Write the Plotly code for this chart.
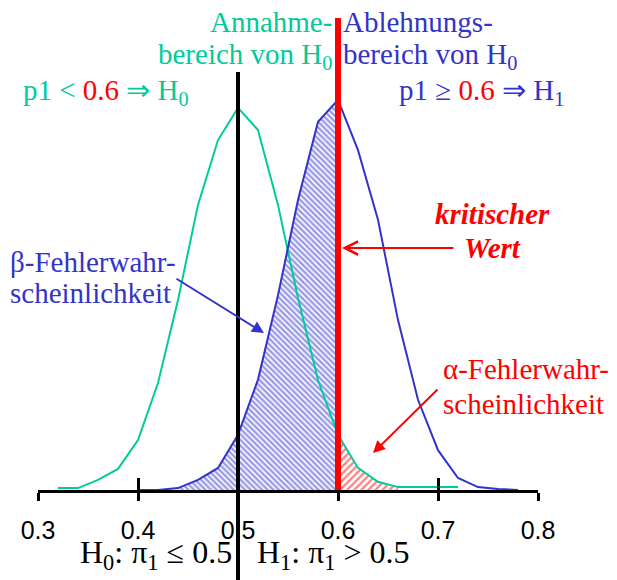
import plotly.graph_objects as go

# Sampling distribution of the sample proportion p1 (heights in percent)
p_h0 = [0.32, 0.34, 0.36, 0.38, 0.40, 0.42, 0.44, 0.46, 0.48, 0.50, 0.52,
        0.54, 0.56, 0.58, 0.60, 0.62, 0.64, 0.66, 0.68, 0.70, 0.72]
f_h0 = [0.04, 0.04, 0.21, 0.44, 1.04, 2.23, 3.96, 5.94, 7.29, 7.96, 7.50,
        5.94, 4.00, 2.29, 1.15, 0.46, 0.17, 0.06, 0.06, 0.06, 0.06]

p_h1 = [0.40, 0.42, 0.44, 0.46, 0.48, 0.50, 0.52, 0.54, 0.56, 0.58, 0.60,
        0.62, 0.64, 0.66, 0.68, 0.70, 0.72, 0.74, 0.76, 0.78]
f_h1 = [0.00, 0.00, 0.04, 0.21, 0.46, 1.15, 2.30, 4.06, 6.04, 7.67, 8.13,
        7.08, 5.63, 3.54, 1.88, 0.83, 0.25, 0.06, 0.02, 0.00]

tick_vals = [0.3, 0.4, 0.5, 0.6, 0.7, 0.8]
tick_text = ["0.3", "0.4", "0.5", "0.6", "0.7", "0.8"]

p_null = 0.5      # boundary of the hypotheses
p_crit = 0.6      # critical value
beta_from = 0.44  # start of the shaded beta area
alpha_to = 0.66   # end of the shaded alpha area

GREEN = "#00cc99"
BLUE = "#3333cc"
RED = "#ff0000"
SERIF = "'Liberation Serif', 'Times New Roman', Times, serif"
SANS = "'Liberation Sans', Arial, Helvetica, sans-serif"

W, H = 617, 580
Y_TOP = 490 / 48.0  # y-axis span so that one percent is 48 px

fig = go.Figure()

# beta error area: H1 curve left of the critical value
bx = [x for x in p_h1 if beta_from <= x <= p_crit]
by = [f for x, f in zip(p_h1, f_h1) if beta_from <= x <= p_crit]
fig.add_trace(go.Scatter(
    x=bx, y=by, mode="lines", line=dict(width=0), fill="tozeroy",
    fillcolor="rgba(255,255,255,0)",
    fillpattern=dict(shape="\\", fgcolor=BLUE, bgcolor="white",
                     size=4, solidity=0.6),
    hoverinfo="skip", showlegend=False))

# alpha error area: H0 curve right of the critical value
ax_ = [x for x in p_h0 if p_crit <= x <= alpha_to]
ay_ = [f for x, f in zip(p_h0, f_h0) if p_crit <= x <= alpha_to]
fig.add_trace(go.Scatter(
    x=ax_, y=ay_, mode="lines", line=dict(width=0), fill="tozeroy",
    fillcolor="rgba(255,255,255,0)",
    fillpattern=dict(shape="/", fgcolor=RED, bgcolor="white",
                     size=5, solidity=0.45),
    hoverinfo="skip", showlegend=False))

fig.add_trace(go.Scatter(x=p_h0, y=f_h0, mode="lines",
                         line=dict(color=GREEN, width=2),
                         hoverinfo="skip", showlegend=False))
fig.add_trace(go.Scatter(x=p_h1, y=f_h1, mode="lines",
                         line=dict(color=BLUE, width=2),
                         hoverinfo="skip", showlegend=False))
# carrier for the upward tick marks
fig.add_trace(go.Scatter(x=[p_null], y=[0], mode="markers",
                         marker=dict(opacity=0), xaxis="x2",
                         hoverinfo="skip", showlegend=False))

# vertical boundary lines
fig.add_shape(type="line", xref="x", yref="paper", x0=p_null, x1=p_null,
              y0=0, y1=1 - 72 / H, line=dict(color="black", width=4),
              layer="above")
fig.add_shape(type="line", xref="x", yref="y", x0=p_crit, x1=p_crit,
              y0=-0.05, y1=(490 - 18) / 48.0, line=dict(color=RED, width=6),
              layer="above")


def label(text, px, py, color, anchor="left", size=29, font=SERIF):
    fig.add_annotation(text=text, xref="paper", yref="paper",
                       x=px / W, y=1 - py / H, xanchor=anchor,
                       yanchor="middle", showarrow=False,
                       font=dict(family=font, size=size, color=color))


label("Annahme-", 334, 22, GREEN, "right")
label("bereich von H<sub>0</sub>", 334, 56, GREEN, "right")
label("Ablehnungs-", 341, 22, BLUE, "left")
label("bereich von H<sub>0</sub>", 341, 56, BLUE, "left")
label("p1 &lt; <span style='color:#ff0000'>0.6</span> ⇒ H<sub>0</sub>",
      21, 92, GREEN, "left")
label("p1 ≥ <span style='color:#ff0000'>0.6</span> ⇒ H<sub>1</sub>",
      566, 92, BLUE, "right")
label("<b><i>kritischer</i></b>", 492, 214, RED, "center")
label("<b><i>Wert</i></b>", 493, 248, RED, "center")
label("β-Fehlerwahr-", 8, 262, BLUE, "left")
label("scheinlichkeit", 8, 293, BLUE, "left")
label("α-Fehlerwahr-", 441, 369, RED, "left")
label("scheinlichkeit", 441, 404, RED, "left")
label("H<sub>0</sub>: π<sub>1</sub> ≤ 0.5", 234, 554, "black", "right",
      size=32)
label("H<sub>1</sub>: π<sub>1</sub> &gt; 0.5", 255, 554, "black", "left",
      size=32)


def arrow(x_head, y_head, x_tail, y_tail, color, head, size):
    fig.add_annotation(x=x_head, y=y_head, ax=x_tail, ay=y_tail,
                       xref="x", yref="y", axref="x", ayref="y",
                       text="", showarrow=True, arrowhead=head,
                       arrowsize=size, arrowwidth=2, arrowcolor=color,
                       standoff=0, startstandoff=0)


arrow(0.604, 5.04, 0.717, 5.04, RED, 5, 1.3)
arrow(0.526, 3.27, 0.437, 4.42, BLUE, 2, 1.2)
arrow(0.635, 0.77, 0.701, 2.125, RED, 2, 1.2)

dom = [38 / W, 538 / W]
fig.update_layout(
    width=W, height=H,
    margin=dict(l=0, r=0, t=0, b=0, pad=0, autoexpand=False),
    paper_bgcolor="white", plot_bgcolor="white",
    font=dict(family=SERIF),
    xaxis=dict(domain=dom, range=[0.3, 0.8], tickvals=tick_vals,
               ticktext=tick_text, ticks="outside", ticklen=8,
               tickwidth=2.5, tickcolor="black", showline=True,
               linewidth=2.5, linecolor="black", showgrid=False,
               zeroline=False, anchor="y", ticklabelstandoff=8,
               automargin=False,
               tickfont=dict(family=SANS, size=25, color="black")),
    xaxis2=dict(domain=dom, range=[0.3, 0.8], overlaying="x", anchor="y",
                tickvals=tick_vals, ticks="inside", ticklen=12,
                tickwidth=2.5, tickcolor="black", showticklabels=False,
                showline=False, showgrid=False, zeroline=False,
                automargin=False),
    yaxis=dict(domain=[90 / H, 1], range=[0, Y_TOP], visible=False,
               automargin=False),
)

fig.write_html("out.html")
